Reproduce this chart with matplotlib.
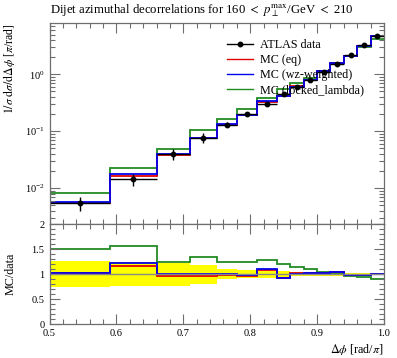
import matplotlib
matplotlib.use("Agg")
import matplotlib.pyplot as plt
import numpy as np
from matplotlib.ticker import MultipleLocator, LogLocator, NullFormatter
from matplotlib.lines import Line2D

plt.rcParams['font.family'] = ['Liberation Serif', 'DejaVu Serif']
plt.rcParams['mathtext.fontset'] = 'stix'

# Bin edges in delta phi [rad/pi]
bin_edges = [0.5, 0.59, 0.66, 0.71, 0.75, 0.78, 0.81, 0.84, 0.86, 0.88, 0.90, 0.92, 0.94, 0.96, 0.98, 1.0]

# ATLAS data
data_vals = [0.00543, 0.0142, 0.0398, 0.0774, 0.131, 0.1995, 0.30, 0.455, 0.605, 0.79,
             1.10, 1.52, 2.16, 3.25, 4.68]
data_rel_err = [0.267, 0.24, 0.228, 0.19, 0.094, 0.074, 0.07, 0.057, 0.045, 0.04,
                0.035, 0.035, 0.03, 0.025, 0.02]

# MC predictions
mc_eq = [0.00554, 0.01651, 0.0386, 0.0745, 0.1297, 0.1921, 0.327, 0.423, 0.614, 0.803,
         1.122, 1.588, 2.128, 3.185, 4.68]
mc_wz = [0.00559, 0.01747, 0.03968, 0.07717, 0.1314, 0.1961, 0.3327, 0.4227, 0.6104, 0.8034,
         1.132, 1.596, 2.136, 3.175, 4.666]
mc_locked = [0.00813, 0.02222, 0.04927, 0.1040, 0.1638, 0.2494, 0.3852, 0.5451, 0.6958, 0.8714,
             1.141, 1.566, 2.080, 3.065, 4.198]

labels = ["ATLAS data", "MC (eq)", "MC (wz-weighted)", "MC (locked_lambda)"]
colors = {"eq": "#e00000", "wz": "#0000ee", "locked": "#228b22"}

edges = np.array(bin_edges)
data = np.array(data_vals)
derr = data * np.array(data_rel_err)
centers = 0.5 * (edges[:-1] + edges[1:])
halfw = 0.5 * (edges[1:] - edges[:-1])

W, H = 397, 358
fig = plt.figure(figsize=(W / 100, H / 100), dpi=100)
ax = fig.add_axes([49.5 / W, 1 - 224.3 / H, (384 - 49.5) / W, (224.3 - 23.3) / H])
rax = fig.add_axes([49.5 / W, 1 - 324 / H, (384 - 49.5) / W, (324 - 224.3) / H])

axcol = '#6e6e6e'
for a in (ax, rax):
    for s in a.spines.values():
        s.set_color(axcol)
        s.set_linewidth(0.9)
    a.tick_params(which='both', direction='in', top=True, right=True, colors=axcol,
                  labelcolor='black', labelsize=7.5)
    a.tick_params(which='major', length=7, width=0.8)
    a.tick_params(which='minor', length=3.5, width=0.8)
    a.set_xlim(0.5, 1.0)
    a.xaxis.set_major_locator(MultipleLocator(0.1))
    a.xaxis.set_minor_locator(MultipleLocator(0.02))

lw = 1.3
h_locked = ax.stairs(mc_locked, edges, color=colors["locked"], lw=lw, baseline=None)
h_eq = ax.stairs(mc_eq, edges, color=colors["eq"], lw=lw, baseline=None)
h_wz = ax.stairs(mc_wz, edges, color=colors["wz"], lw=lw, baseline=None)
ax.errorbar(centers, data, xerr=halfw, yerr=derr, fmt='o', color='black', ms=3.2,
            elinewidth=1.0, capsize=0)

ax.set_yscale('log')
ax.set_ylim(0.00231, 7.88)
ax.yaxis.set_major_locator(LogLocator(base=10, numticks=10))
ax.yaxis.set_minor_locator(LogLocator(base=10, subs=np.arange(2, 10), numticks=10))
ax.yaxis.set_minor_formatter(NullFormatter())
ax.tick_params(labelbottom=False)

handles = [
    Line2D([], [], color='black', marker='o', ms=3.2, lw=1.0),
    Line2D([], [], color=colors["eq"], lw=1.0),
    Line2D([], [], color=colors["wz"], lw=1.0),
    Line2D([], [], color=colors["locked"], lw=1.0),
]
leg = ax.legend(handles, labels, loc='upper left',
                bbox_to_anchor=(0.515, 0.945), frameon=False, fontsize=8.7,
                handlelength=2.2, handletextpad=0.6, labelspacing=0.25, borderaxespad=0)

ax.set_ylabel(r'$1/\sigma\ \mathrm{d}\sigma/\mathrm{d}\Delta\phi$ [$\pi$/rad]', fontsize=8.5,
              loc='top')
ax.yaxis.set_label_coords(-0.098, 1.0)
fig.text(49.5 / W, 1 - 11 / H,
         r'Dijet azimuthal decorrelations for 160 $<$ $p_\perp^{\mathrm{max}}$/GeV $<$ 210',
         fontsize=9.2, ha='left', va='center')

# Ratio panel
rel = np.array(data_rel_err)
rax.fill_between(edges, np.append(1 - rel, 1 - rel[-1]), np.append(1 + rel, 1 + rel[-1]),
                 step='post', color='#ffff00', lw=0)
rax.axhline(1.0, color='#888888', lw=1.0)
rax.stairs(np.array(mc_locked) / data, edges, color=colors["locked"], lw=lw, baseline=None)
rax.stairs(np.array(mc_eq) / data, edges, color=colors["eq"], lw=lw, baseline=None)
rax.stairs(np.array(mc_wz) / data, edges, color=colors["wz"], lw=lw, baseline=None)
rax.set_ylim(0, 2)
rax.yaxis.set_minor_locator(MultipleLocator(0.1))
rax.set_yticks([0, 0.5, 1, 1.5, 2])
rax.set_yticklabels(['0', '0.5', '1', '1.5', '2'])
rax.set_xticks([0.5, 0.6, 0.7, 0.8, 0.9, 1.0])
rax.set_xticklabels(['0.5', '0.6', '0.7', '0.8', '0.9', '1.0'])
rax.set_ylabel('MC/data', fontsize=8.7)
rax.yaxis.set_label_coords(-0.098, 0.5)
rax.set_xlabel(r'$\Delta\phi$ [rad/$\pi$]', fontsize=8.7, loc='right')
rax.xaxis.set_label_coords(1.0, -0.18)

fig.savefig('out.png', dpi=100)
